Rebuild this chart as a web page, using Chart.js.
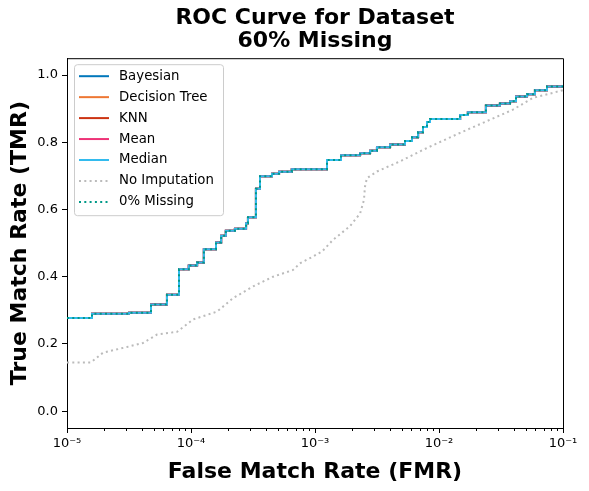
<!DOCTYPE html>
<html>
<head>
<meta charset="utf-8">
<script src="https://cdn.jsdelivr.net/npm/chart.js@4.4.0/dist/chart.umd.min.js"></script>
<style>
  html, body { margin: 0; padding: 0; background: #fff; }
  #wrap { width: 589px; height: 491px; }
</style>
</head>
<body>
<div id="wrap"><canvas id="rocChart" width="589" height="491"></canvas></div>
<script>
// ROC points: FMR (log x) and TMR
const imputedFmr = [1e-5, 1.59e-5, 3.16e-5, 4.76e-5, 6.4e-5, 8.0e-5, 9.6e-5, 1.12e-4, 1.27e-4,
  1.59e-4, 1.75e-4, 1.91e-4, 2.26e-4, 2.78e-4, 2.88e-4, 3.34e-4, 3.6e-4, 4.5e-4, 5.13e-4,
  6.5e-4, 1.25e-3, 1.62e-3, 2.31e-3, 2.78e-3, 3.16e-3, 4.03e-3, 5.32e-3, 6.06e-3, 6.78e-3,
  7.43e-3, 8.0e-3, 8.46e-3, 1.48e-2, 1.71e-2, 2.39e-2, 3.1e-2, 3.74e-2, 4.18e-2, 5.13e-2,
  5.94e-2, 7.43e-2, 0.1];
const imputedTmr = [0.277, 0.29, 0.293, 0.317, 0.346, 0.422, 0.433, 0.442, 0.482,
  0.502, 0.522, 0.537, 0.543, 0.559, 0.577, 0.662, 0.699, 0.706, 0.712,
  0.72, 0.747, 0.761, 0.767, 0.775, 0.785, 0.793, 0.804, 0.815, 0.83,
  0.845, 0.86, 0.869, 0.881, 0.889, 0.909, 0.915, 0.922, 0.936, 0.943,
  0.955, 0.966, 0.97];

const noImputationFmr = [1e-5, 1.56e-5, 1.95e-5, 3.05e-5, 4.1e-5, 5.32e-5, 7.71e-5, 1.04e-4,
  1.62e-4, 2.18e-4, 3.16e-4, 4.59e-4, 6.65e-4, 7.57e-4, 9.64e-4, 1.14e-3, 1.4e-3, 1.91e-3,
  2.31e-3, 2.48e-3, 2.53e-3, 2.62e-3, 3.16e-3, 4.84e-3, 8.0e-3, 1.48e-2, 2.44e-2, 3.95e-2,
  5.73e-2, 8.3e-2, 0.1];
const noImputationTmr = [0.145, 0.145, 0.174, 0.191, 0.203, 0.228, 0.236, 0.273,
  0.296, 0.336, 0.371, 0.4, 0.42, 0.44, 0.46, 0.475, 0.51, 0.55,
  0.588, 0.628, 0.668, 0.693, 0.713, 0.743, 0.783, 0.828, 0.863, 0.897,
  0.932, 0.947, 0.955];

const methodNames = ["Bayesian", "Decision Tree", "KNN", "Mean", "Median"];
const methodColors = ["#0077BB", "#EE7733", "#CC3311", "#EE3377", "#33BBEE"];

const xMajorTicks = [1e-5, 1e-4, 1e-3, 1e-2, 1e-1];
const xTickLabels = ["10\u207B\u2075", "10\u207B\u2074", "10\u207B\u00B3", "10\u207B\u00B2", "10\u207B\u00B9"];
const yTicks = [0, 0.2, 0.4, 0.6, 0.8, 1.0];

const FONT = "'DejaVu Sans', sans-serif";

function toPoints(xs, ys) {
  return xs.map((x, i) => ({ x: x, y: ys[i] }));
}

const datasets = methodNames.map((name, i) => ({
  label: name,
  data: toPoints(imputedFmr, imputedTmr),
  borderColor: methodColors[i],
  borderWidth: 2,
  stepped: true,
  pointRadius: 0,
  fill: false,
}));

datasets.push({
  label: "No Imputation",
  data: toPoints(noImputationFmr, noImputationTmr),
  borderColor: "#BBBBBB",
  borderWidth: 2,
  borderDash: [2, 3.3],
  pointRadius: 0,
  fill: false,
});

datasets.push({
  label: "0% Missing",
  data: toPoints(imputedFmr, imputedTmr),
  borderColor: "#009988",
  borderWidth: 2,
  borderDash: [2, 3.3],
  stepped: true,
  pointRadius: 0,
  fill: false,
});

// later series go on top, like matplotlib
datasets.forEach((ds, i) => { ds.order = datasets.length - i; });

// box frame, minor ticks and the in-plot legend
const framePlugin = {
  id: "frame",
  afterLayout(chart) {
    // center the title over the plot area, not the whole canvas
    const t = chart.titleBlock;
    if (t) {
      t.left = chart.chartArea.left;
      t.right = chart.chartArea.right;
      t.width = t.right - t.left;
    }
  },
  afterDraw(chart) {
    const ctx = chart.ctx;
    const area = chart.chartArea;
    const xs = chart.scales.x;

    ctx.save();
    ctx.strokeStyle = "#000";
    ctx.lineWidth = 1;
    ctx.beginPath();
    ctx.moveTo(area.left, area.top + 0.5);
    ctx.lineTo(area.right + 0.5, area.top + 0.5);
    ctx.lineTo(area.right + 0.5, area.bottom);
    ctx.stroke();

    // minor ticks on log axis
    ctx.beginPath();
    for (let p = -5; p < -1; p++) {
      for (let m = 2; m <= 9; m++) {
        const px = Math.round(xs.getPixelForValue(m * Math.pow(10, p))) + 0.5;
        ctx.moveTo(px, area.bottom);
        ctx.lineTo(px, area.bottom + 3);
      }
    }
    ctx.stroke();

    // legend
    const lx = area.left + 7;
    const ly = area.top + 6;
    const lw = 149;
    const lh = 151;
    ctx.beginPath();
    ctx.roundRect(lx + 0.5, ly + 0.5, lw, lh, 3);
    ctx.fillStyle = "rgba(255,255,255,0.8)";
    ctx.fill();
    ctx.strokeStyle = "#cccccc";
    ctx.stroke();

    ctx.font = "13.3px " + FONT;
    ctx.textBaseline = "middle";
    ctx.textAlign = "left";
    methodNames.concat(["No Imputation", "0% Missing"]).forEach((name, i) => {
      const ds = chart.data.datasets.find((d) => d.label === name);
      const cy = ly + 12 + i * 20.95;
      ctx.beginPath();
      ctx.strokeStyle = ds.borderColor;
      ctx.lineWidth = 2;
      ctx.setLineDash(ds.borderDash || []);
      ctx.moveTo(lx + 5, cy);
      ctx.lineTo(lx + 35, cy);
      ctx.stroke();
      ctx.setLineDash([]);
      ctx.fillStyle = "#000";
      ctx.fillText(ds.label, lx + 45, cy);
    });
    ctx.restore();
  },
};

new Chart(document.getElementById("rocChart"), {
  type: "line",
  data: { datasets },
  plugins: [framePlugin],
  options: {
    responsive: false,
    animation: false,
    devicePixelRatio: 1,
    layout: { padding: { left: 0, right: 26, top: 0, bottom: 0 } },
    plugins: {
      legend: { display: false },
      tooltip: { enabled: false },
      title: {
        display: true,
        text: ["ROC Curve for Dataset", "60% Missing"],
        color: "#000",
        font: { family: FONT, size: 22, weight: "bold", lineHeight: 1.05 },
        padding: { top: 7, bottom: 5 },
      },
    },
    scales: {
      x: {
        type: "logarithmic",
        min: 1e-5,
        max: 1e-1,
        afterBuildTicks(scale) {
          scale.ticks = xMajorTicks.map((v) => ({ value: v }));
        },
        afterFit(scale) {
          scale.height = 63;
        },
        ticks: {
          color: "#000",
          font: { family: FONT, size: 13 },
          padding: 3,
          maxRotation: 0,
          autoSkip: false,
          callback: (v) => xTickLabels[xMajorTicks.indexOf(v)],
        },
        grid: { drawOnChartArea: false, tickLength: 5, tickColor: "#000" },
        border: { color: "#000", width: 1 },
        title: {
          display: true,
          text: "False Match Rate (FMR)",
          color: "#000",
          font: { family: FONT, size: 22, weight: "bold" },
          padding: { top: 0, bottom: 6 },
        },
      },
      y: {
        min: -0.05,
        max: 1.05,
        afterBuildTicks(scale) {
          scale.ticks = yTicks.map((v) => ({ value: v }));
        },
        afterFit(scale) {
          scale.width = 67;
        },
        ticks: {
          color: "#000",
          font: { family: FONT, size: 13 },
          padding: 4,
          callback: (v) => v.toFixed(1),
        },
        grid: { drawOnChartArea: false, tickLength: 5, tickColor: "#000" },
        border: { color: "#000", width: 1 },
        title: {
          display: true,
          text: "True Match Rate (TMR)",
          color: "#000",
          font: { family: FONT, size: 22, weight: "bold" },
          padding: { top: 7, bottom: 0 },
        },
      },
    },
  },
});
</script>
</body>
</html>
